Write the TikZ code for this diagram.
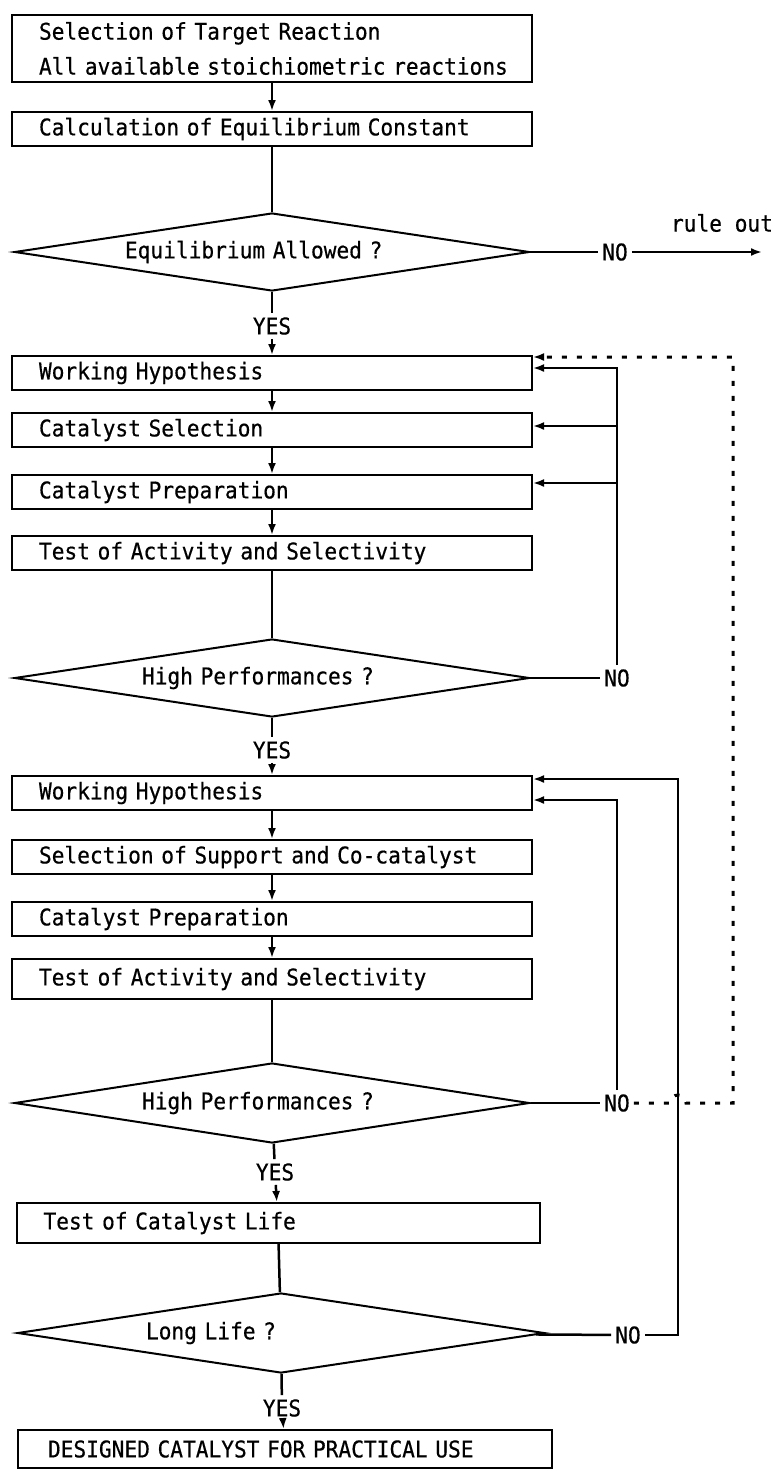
\documentclass[tikz,border=0pt]{standalone}
\usepackage{fontspec}
\newfontfamily\flowfont[FakeStretch=0.92,FakeBold=0.5]{DejaVu Sans Mono}
\usetikzlibrary{shapes.geometric,arrows.meta,positioning}

\begin{document}
\begin{tikzpicture}[
    x=1pt, y=-1pt,
    font=\flowfont\fontsize{23}{27}\selectfont,
    line width=2.5pt,
    box/.style={rectangle, draw, line width=2pt, minimum height=34pt, text width=466pt,
                inner xsep=27pt, inner ysep=4pt, align=left},
    decide/.style={diamond, draw, line width=2pt, minimum width=515pt, minimum height=78pt,
                   aspect=6.6, inner sep=3pt, align=left},
    tag/.style={inner sep=3pt},
    arrow/.style={-{Latex[length=11pt,width=8pt]}},
    loopdot/.style={arrow, line width=3pt, dash pattern=on 5pt off 10pt}
  ]
    \path[use as bounding box, fill=white] (0,0) rectangle (775,1473);

    \node[box, minimum height=67pt] (target) at (272,48.5)
      {\mbox{Selection of Target Reaction}\\[8pt]\mbox{All available stoichiometric reactions}};
    \node[box] (equil) at (272,129) {Calculation of Equilibrium Constant};
    \node[decide, text width=294pt] (allowed) at (272,252) {Equilibrium Allowed ?};
    \node[tag] (no1) at (615,252) {NO};
    \node[tag] (ruleout) at (722,223) {rule out};
    \coordinate (out) at (762,252);
    \node[tag] (yes1) at (272,326) {YES};

    \node[box] (hyp1) at (272,373) {Working Hypothesis};
    \node[box] (catsel) at (272,430) {Catalyst Selection};
    \node[box] (prep1) at (272,492) {Catalyst Preparation};
    \node[box] (test1) at (272,553) {Test of Activity and Selectivity};
    \node[decide, text width=260pt] (perf1) at (272,678) {High Performances ?};
    \node[tag] (no2) at (617,678) {NO};
    \node[tag] (yes2) at (272,750) {YES};

    \node[box] (hyp2) at (272,793) {Working Hypothesis};
    \node[box] (support) at (272,857) {Selection of Support and Co-catalyst};
    \node[box] (prep2) at (272,919) {Catalyst Preparation};
    \node[box, minimum height=40pt] (test2) at (272,979) {Test of Activity and Selectivity};
    \node[decide, text width=260pt, minimum height=80pt] (perf2) at (272,1103) {High Performances ?};
    \node[tag] (no3) at (617,1103) {NO};
    \node[tag] (yes3) at (275,1172) {YES};

    \node[box, minimum height=40pt, text width=469pt] (life) at (278,1223) {Test of Catalyst Life};
    \node[decide, text width=270pt, minimum width=527pt, minimum height=80pt] (longlife) at (281,1333) {Long Life ?};
    \node[tag] (no4) at (628,1335) {NO};
    \node[tag] (yes4) at (282,1408) {YES};
    \node[box, minimum height=38pt, text width=474pt, inner xsep=30pt] (final) at (285,1449) {DESIGNED CATALYST FOR PRACTICAL USE};

    % main column
    \foreach \a/\b in {target/equil, yes1/hyp1, hyp1/catsel, catsel/prep1, prep1/test1,
                       yes2/hyp2, hyp2/support, support/prep2, prep2/test2, yes3/life, yes4/final}
      \draw[arrow] (\a) -- (\b);
    \foreach \a/\b in {equil/allowed, allowed/yes1, test1/perf1, perf1/yes2, test2/perf2,
                       perf2/yes3, life/longlife, longlife/yes4,
                       allowed/no1, perf1/no2, perf2/no3, longlife/no4}
      \draw (\a) -- (\b);
    \draw[arrow] (no1) -- (out);

    % feedback loops
    \coordinate (j1) at (617,368);
    \coordinate (j2) at (617,426);
    \coordinate (j3) at (617,483);
    \coordinate (j4) at (617,800);
    \coordinate (j5) at (678,779);
    \coordinate (j6) at (733,357);
    \coordinate (hop) at (670,1103);
    \draw[arrow] (no2.north) -- (j1) -- (j1 -| hyp1.east);
    \draw[arrow] (j2) -- (j2 -| catsel.east);
    \draw[arrow] (j3) -- (j3 -| prep1.east);
    \draw[arrow] (no3.north) -- (j4) -- (j4 -| hyp2.east);
    \draw[arrow] (no4.east) -| (j5) -- (j5 -| hyp2.east);
    \draw[loopdot] (no3.east) -- (hop) arc[start angle=180, end angle=360, radius=8]
      -- (j6 |- no3) -- (j6) -- (j6 -| hyp1.east);
  \end{tikzpicture}
\end{document}
